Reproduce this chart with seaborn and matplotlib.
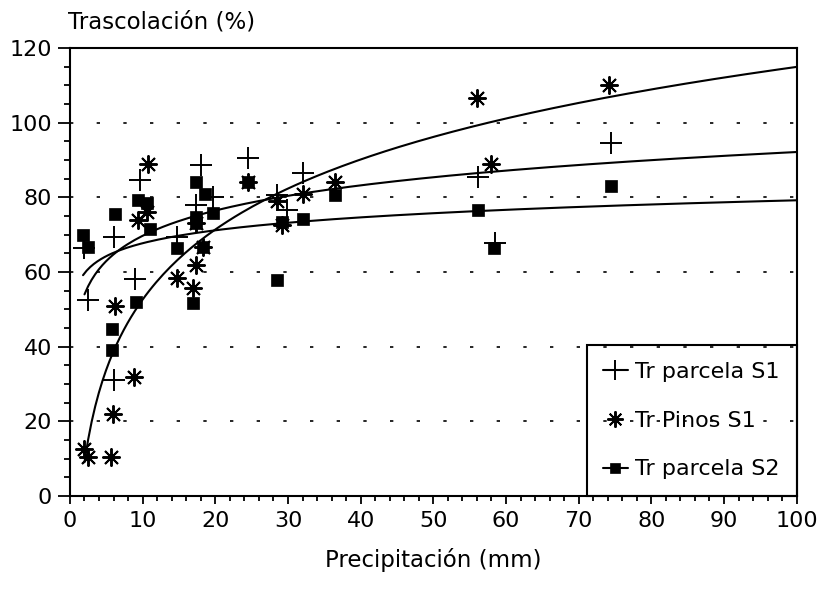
import numpy as np
import pandas as pd
import matplotlib.pyplot as plt
import seaborn as sns
from matplotlib.lines import Line2D
from matplotlib.ticker import MultipleLocator

# Tr parcela S1 (cruces)
x_s1 = [2.0, 2.5, 6.0, 6.0, 8.9, 9.6, 14.7, 17.4, 18.0, 19.7, 24.5, 28.5, 29.8, 32.0, 56.1, 58.5, 74.4]
y_s1 = [66.4, 52.5, 69.5, 31.0, 58.0, 84.6, 69.4, 78.0, 88.7, 80.0, 90.5, 80.6, 76.6, 86.5, 85.5, 67.8, 94.6]

# Tr Pinos S1 (asteriscos)
x_pin = [2.0, 2.5, 5.6, 5.9, 6.2, 8.8, 9.4, 10.6, 10.7, 14.7, 16.9, 17.4, 17.4, 18.3,
         24.5, 28.5, 29.2, 32.0, 36.5, 56.0, 58.0, 74.2]
y_pin = [12.6, 10.5, 10.5, 22.0, 51.0, 32.0, 74.0, 76.0, 89.0, 58.4, 55.7, 62.0, 73.0, 66.7,
         84.0, 79.0, 72.6, 81.0, 84.0, 106.5, 89.0, 110.0]

# Tr parcela S2 (cuadrados)
x_s2 = [1.8, 2.5, 5.8, 5.8, 6.2, 9.1, 9.4, 10.6, 11.0, 14.7, 16.9, 17.4, 17.4, 17.4, 18.3, 18.6,
        19.7, 24.5, 28.5, 29.2, 32.0, 36.5, 56.1, 58.3, 74.4]
y_s2 = [70.0, 66.7, 44.7, 39.0, 75.5, 52.0, 79.3, 78.5, 71.5, 66.4, 51.7, 84.0, 74.7, 73.0, 66.7, 81.0,
        75.8, 84.0, 57.9, 73.4, 74.2, 80.6, 76.6, 66.4, 83.0]

nombres = ["Tr parcela S1", "Tr Pinos S1", "Tr parcela S2"]
marcadores = ["+", (8, 2, 0), "s"]
tamanos = [16, 13, 8]
datos = [(x_s1, y_s1), (x_pin, y_pin), (x_s2, y_s2)]

sns.set_style("ticks")
plt.rcParams['font.family'] = ['DejaVu Sans']
plt.rcParams['text.color'] = 'black'
plt.rcParams['axes.labelcolor'] = 'black'
plt.rcParams['xtick.color'] = 'black'
plt.rcParams['ytick.color'] = 'black'

fig = plt.figure(figsize=(8.23, 5.92), dpi=100)
ax = fig.add_axes([0.085, 0.162, 0.883, 0.757])

handles = []
for name, (xs, ys), mk, ms in zip(nombres, datos, marcadores, tamanos):
    df = pd.DataFrame({"x": xs, "y": ys})
    ax.plot(df.x, df.y, linestyle="none", marker=mk, markersize=ms,
            markeredgewidth=1.4 if mk != "s" else 0.5, color="black")
    # ajuste logaritmico
    b, a = np.polyfit(np.log(df.x), df.y, 1)
    xf = np.linspace(df.x.min(), 100, 200)
    fit = pd.DataFrame({"x": xf, "y": a + b * np.log(xf)})
    sns.lineplot(data=fit, x="x", y="y", ax=ax, color="black", linewidth=1.5, legend=False)
    handles.append(Line2D([], [], color="black", marker=mk, markersize=ms * 0.9,
                          markeredgewidth=1.4 if mk != "s" else 0.5,
                          linestyle="none" if mk == (8, 2, 0) else "-", linewidth=1.5, label=name))

ax.set_xlim(0, 100)
ax.set_ylim(0, 120)
ax.xaxis.set_major_locator(MultipleLocator(10))
ax.xaxis.set_minor_locator(MultipleLocator(2))
ax.yaxis.set_major_locator(MultipleLocator(20))
ax.yaxis.set_minor_locator(MultipleLocator(5))
ax.tick_params(which="both", direction="out", color="black", width=1.3)
ax.tick_params(axis="x", which="major", length=6, labelsize=16, pad=5)
ax.tick_params(axis="x", which="minor", length=3.5)
ax.tick_params(axis="y", which="major", length=9, labelsize=16, pad=4)
ax.tick_params(axis="y", which="minor", length=4.5)
for sp in ax.spines.values():
    sp.set_linewidth(1.5)
    sp.set_color("black")

for yv in [20, 40, 60, 80, 100]:
    ax.axhline(yv, color="black", linewidth=1.2, linestyle=(0, (2, 14)), zorder=0)

ax.set_xlabel("Precipitación (mm)", fontsize=16.5, labelpad=12)
ax.set_ylabel("")
fig.text(0.083, 0.963, "Trascolación (%)", fontsize=16.5, ha="left", va="center")

leg = ax.legend(handles=handles, loc="lower right", fontsize=16, frameon=True, fancybox=False,
                facecolor="none", edgecolor="black", borderaxespad=0, handlelength=1.1,
                handletextpad=0.35, labelspacing=1.3, borderpad=0.75)
leg.get_frame().set_linewidth(1.5)
leg.get_frame().set_alpha(None)

fig.savefig("out.png", dpi=100)
